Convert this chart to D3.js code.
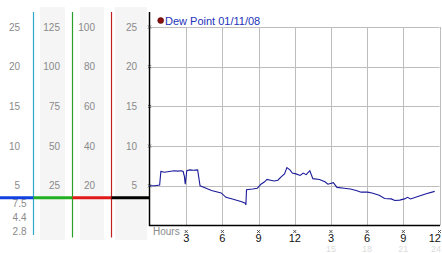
<!DOCTYPE html>
<html><head><meta charset="utf-8">
<script src="https://cdn.jsdelivr.net/npm/d3@7"></script>
<style>body{margin:0;background:#fff}svg{display:block}</style>
</head><body>
<svg id="c" width="442" height="253"></svg>
<script>
// ---- data ----
const hours = [0,0.4,0.8,0.9,1.2,1.6,2.0,2.3,2.6,2.75,2.85,2.92,3.05,3.3,3.6,3.95,4.15,4.5,5.1,5.9,6.3,6.9,7.6,7.9,7.95,8.0,8.5,8.9,9.2,9.5,9.7,10.0,10.3,10.6,10.85,11.15,11.35,11.6,11.8,12.1,12.45,12.7,12.95,13.25,13.5,14.05,14.5,14.75,15.2,15.5,16.1,16.6,17.1,17.5,18.05,18.4,19.0,19.45,20.0,20.3,20.7,21.1,21.35,21.6,22.2,22.9,23.6];
const dewPoint = [5.0,5.0,5.1,6.8,6.7,6.8,6.9,6.85,6.9,6.8,6.2,5.2,6.9,7.0,6.95,7.0,5.0,4.8,4.4,4.1,3.55,3.3,3.0,2.8,2.6,4.5,4.6,4.7,5.2,5.5,5.8,5.7,5.6,5.7,6.1,6.5,7.3,7.0,6.6,6.5,6.3,6.6,6.4,6.9,5.9,5.8,5.5,5.2,5.4,4.8,4.7,4.6,4.4,4.2,4.2,4.1,3.8,3.4,3.35,3.15,3.2,3.35,3.55,3.35,3.65,4.0,4.3];
const yTicks = [5,10,15,20,25];
const colMultipliers = [1,5,4,1];
const lowerLabels = ["7.5","4.4","2.8"];
const xTicks = [3,6,9,12,15,18,21,24];
const xTickLabels = ["3","6","9","12","3","6","9","12"];
const xSecondLabels = ["","","","","15","18","21","24"];
const markerValue = 3.5;
const legendText = "Dew Point 01/11/08";

// ---- drawing ----
const svg = d3.select("#c");
const x = d3.scaleLinear().domain([0,24]).range([150,439.5]);
const y = d3.scaleLinear().domain([0,25]).range([225.5,27]);
const font = "'Liberation Sans', Arial, sans-serif";

// left stripes
const stripes = [[40,65],[80,104],[115,147]];
svg.selectAll("rect.stripe").data(stripes).join("rect")
  .attr("x",d=>d[0]).attr("y",7).attr("width",d=>d[1]-d[0]).attr("height",233)
  .attr("fill","#f5f5f5");

// column labels
const colRight = [20,60,95,137];
colMultipliers.forEach((m,i)=>{
  svg.selectAll(null).data(yTicks).join("text")
    .attr("x",colRight[i]).attr("y",d=>y(d)+3.5)
    .attr("text-anchor","end").attr("font-family",font).attr("font-size",10)
    .attr("fill","#8a8a8a").text(d=>d*m);
});
svg.selectAll(null).data(lowerLabels).join("text")
  .attr("x",26.5).attr("y",(d,i)=>y(markerValue)+9.5+i*14)
  .attr("text-anchor","end").attr("font-family",font).attr("font-size",10)
  .attr("fill","#8a8a8a").text(d=>d);

// colored vertical lines
const vlines = [{x:33.5,c:"#30a8c8",b:235},{x:72.5,c:"#2aa02a",b:237.5},{x:111.5,c:"#c02020",b:237.5}];
svg.selectAll("line.v").data(vlines).join("line")
  .attr("x1",d=>d.x).attr("x2",d=>d.x).attr("y1",12).attr("y2",d=>d.b)
  .attr("stroke",d=>d.c).attr("stroke-width",1.2);

// thick horizontal marker
const segs = [{a:0,b:33.5,c:"#1040e0"},{a:33.5,b:72.5,c:"#22b022"},{a:72.5,b:111.5,c:"#e01818"},{a:111.5,b:150,c:"#000"}];
svg.selectAll("line.h").data(segs).join("line")
  .attr("x1",d=>d.a).attr("x2",d=>d.b).attr("y1",y(markerValue)).attr("y2",y(markerValue))
  .attr("stroke",d=>d.c).attr("stroke-width",3);

// grid
svg.selectAll("line.gy").data(yTicks).join("line")
  .attr("x1",x(0)).attr("x2",x(24)).attr("y1",d=>Math.round(y(d))+0.5).attr("y2",d=>Math.round(y(d))+0.5)
  .attr("stroke","#bdbdbd").attr("stroke-width",1);
svg.selectAll("line.gx").data(xTicks).join("line")
  .attr("x1",d=>Math.round(x(d))+0.5).attr("x2",d=>Math.round(x(d))+0.5)
  .attr("y1",y(25)).attr("y2",y(0))
  .attr("stroke","#bdbdbd").attr("stroke-width",1);

// axes
svg.append("line").attr("x1",149.5).attr("x2",149.5).attr("y1",12).attr("y2",y(0)+0.5)
  .attr("stroke","#000").attr("stroke-width",1.5);
svg.append("line").attr("x1",149).attr("x2",440).attr("y1",y(0)).attr("y2",y(0))
  .attr("stroke","#000").attr("stroke-width",1.5);

// tick crosses
function cross(g,cx,cy){
  g.append("path").attr("d",`M${cx-1.5},${cy-1.5}L${cx+1.5},${cy+1.5}M${cx+1.5},${cy-1.5}L${cx-1.5},${cy+1.5}`)
   .attr("stroke","#333").attr("stroke-width",0.8);
}
yTicks.forEach(t=>cross(svg,149.5,y(t)));
xTicks.forEach(t=>cross(svg,x(t),y(0)+6));

// x tick labels
const last = xTicks.length-1;
svg.selectAll(null).data(xTicks).join("text")
  .attr("x",(d,i)=>i===last?441:x(d)).attr("y",242)
  .attr("text-anchor",(d,i)=>i===last?"end":"middle").attr("font-family",font).attr("font-size",11)
  .attr("fill","#111").text((d,i)=>xTickLabels[i]);
svg.selectAll(null).data(xTicks).join("text")
  .attr("x",(d,i)=>i===last?441:x(d)).attr("y",252)
  .attr("text-anchor",(d,i)=>i===last?"end":"middle").attr("font-family",font).attr("font-size",9)
  .attr("fill","#dcdcdc").text((d,i)=>xSecondLabels[i]);
svg.append("text").attr("x",153).attr("y",235).attr("font-family",font).attr("font-size",10)
  .attr("fill","#8a8a8a").text("Hours");

// data line
const pts = hours.map((h,i)=>[h,dewPoint[i]]);
svg.append("path").datum(pts)
  .attr("d",d3.line().x(d=>x(d[0])).y(d=>y(d[1])))
  .attr("fill","none").attr("stroke","#1a1a9a").attr("stroke-width",1.1);

// legend
svg.append("circle").attr("cx",160.7).attr("cy",20.5).attr("r",3).attr("fill","#8a1010").attr("stroke","#400").attr("stroke-width",0.5);
svg.append("text").attr("x",165).attr("y",24.5).attr("font-family",font).attr("font-size",11)
  .attr("fill","#2233bb").text(legendText);
</script>
</body></html>
